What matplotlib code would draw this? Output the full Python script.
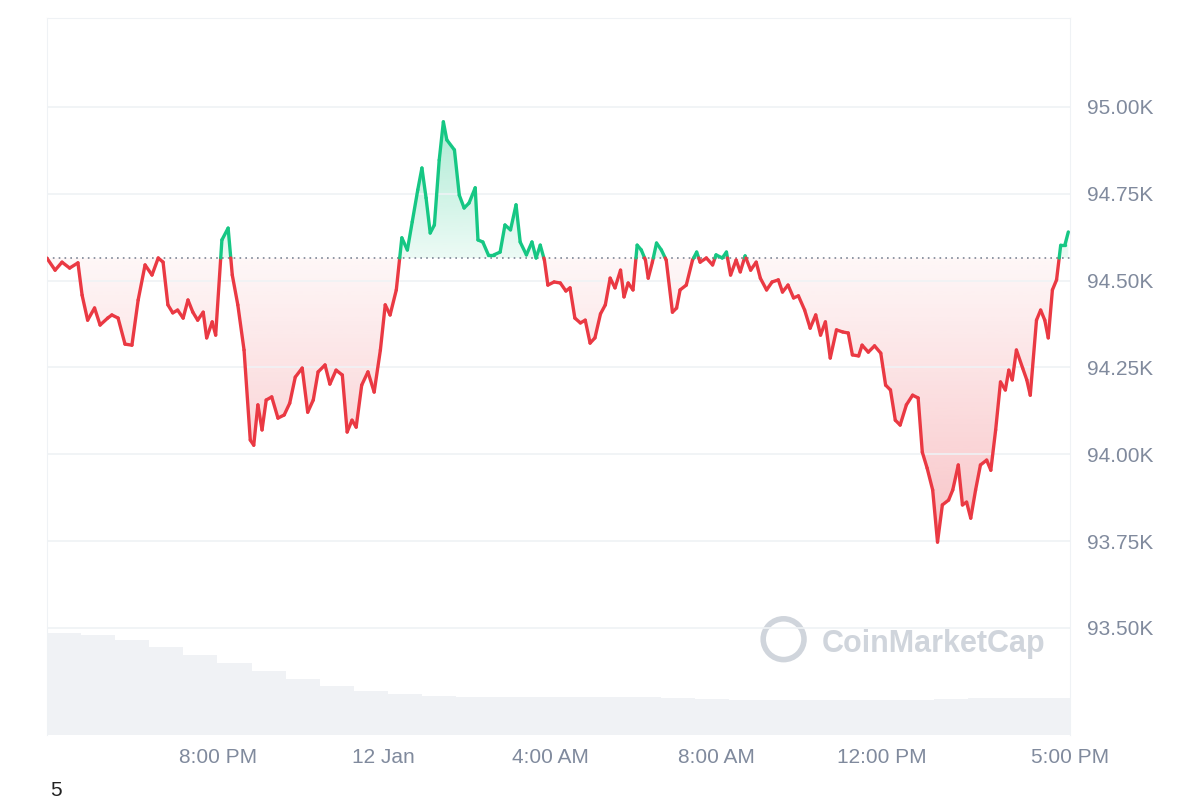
import numpy as np
import matplotlib
matplotlib.use("Agg")
import matplotlib.pyplot as plt
from matplotlib.collections import LineCollection
from matplotlib.patches import PathPatch, Ellipse
from matplotlib.path import Path

plt.rcParams['font.family'] = ['Liberation Sans', 'DejaVu Sans']

# minutes since 15:53 (11 Jan)
minutes = [0,12,22,33,45,51,59,69,77,88,94,103,113,123,132,142,152,161,168,175,182,189,197,204,211,218,226,231,239,244,
253,262,268,276,285,294,299,305,311,317,325,334,343,351,359,369,377,385,392,402,409,418,427,434,441,447,455,464,473,482,
489,496,505,513,521,528,536,542,548,554,560,567,573,578,589,596,603,610,619,623,630,638,646,655,662,670,678,684,693,701,
707,713,719,724,733,742,750,756,763,771,778,785,792,800,807,814,821,829,834,840,847,853,859,865,869,875,881,888,895,904,
910,915,924,933,939,944,953,962,967,976,982,988,996,1002,1009,1017,1025,1031,1040,1048,1057,1063,1071,1079,1086,1095,1103,1111,1118,1125,
1132,1141,1150,1158,1164,1173,1178,1187,1196,1205,1212,1219,1226,1233,1242,1251,1259,1265,1272,1280,1287,1294,1303,1309,1317,1323,1329,1335,1342,1349,
1358,1364,1371,1378,1385,1390,1395,1401,1410,1416,1421,1430,1436,1442,1447,1453,1459,1465,1471,1476]
price = [94565,94530,94553,94536,94551,94458,94386,94421,94372,94392,94401,94392,94317,94314,94444,94545,94516,94565,94553,94430,94407,94415,94392,94444,94409,94386,94409,94335,94381,94343,
94617,94651,94516,94430,94300,94041,94026,94142,94070,94156,94165,94104,94113,94147,94222,94248,94121,94156,94237,94257,94202,94242,94228,94064,94098,94078,94199,94237,94179,94300,
94430,94401,94473,94623,94588,94669,94761,94824,94738,94637,94660,94847,94957,94905,94876,94746,94709,94723,94767,94617,94611,94574,94574,94582,94660,94646,94718,94611,94574,94611,
94565,94602,94559,94487,94496,94493,94470,94479,94392,94378,94386,94320,94335,94404,94430,94507,94479,94530,94453,94493,94473,94602,94588,94559,94507,94553,94608,94588,94559,94409,
94421,94473,94487,94559,94582,94553,94565,94545,94574,94565,94582,94516,94559,94525,94571,94530,94553,94507,94473,94496,94502,94467,94487,94450,94456,94415,94363,94401,94343,94381,
94277,94358,94352,94349,94286,94283,94314,94294,94312,94291,94199,94185,94098,94084,94142,94170,94162,94006,93960,93897,93747,93854,93868,93897,93969,93854,93862,93816,93897,93969,
93983,93954,94070,94208,94185,94242,94214,94300,94248,94214,94170,94386,94415,94386,94335,94473,94502,94602,94602,94640]
baseline = 94565
volume = [102,100,95,88,80,72,64,56,49,44,41,39,38,38,38,38,38,38,37,36,35,35,35,35,35,35,36,37,37,37]
tick_minutes = [247,487,727,967,1207,1479]
tick_labels = ["8:00 PM","12 Jan","4:00 AM","8:00 AM","12:00 PM","5:00 PM"]
ytick_vals = [93500,93750,94000,94250,94500,94750,95000]
ytick_labels = ["93.50K","93.75K","94.00K","94.25K","94.50K","94.75K","95.00K"]

GREEN = "#16c784"; RED = "#ea3943"; GREY = "#808a9d"
x = np.array(minutes, float); y = np.array(price, float)
xmax = 1479

fig = plt.figure(figsize=(12, 8), dpi=100)
ax = fig.add_axes([0.039, 0.081, 0.853, 0.8965])
ax.set_xlim(0, xmax); ax.set_ylim(93191, 95256)

axv = ax.twinx()
axv.set_ylim(0, 717)
w = xmax / len(volume)
axv.bar(np.arange(len(volume)) * w, volume, width=w, align="edge", color="#f0f2f5", edgecolor="none", zorder=0)
axv.set_yticks([]); axv.set_zorder(0)
ax.set_zorder(1); ax.patch.set_visible(False)
for s in axv.spines.values(): s.set_visible(False)

xs, ys = [x[0]], [y[0]]
for i in range(1, len(x)):
    a, b = y[i-1] - baseline, y[i] - baseline
    if a * b < 0:
        t = a / (a - b)
        xs.append(x[i-1] + t * (x[i] - x[i-1])); ys.append(baseline)
    xs.append(x[i]); ys.append(y[i])
xs = np.array(xs); ys = np.array(ys)

def grad_fill(above, color, lo, hi, a_base, a_far):
    yc = np.where(ys >= baseline, ys, baseline) if above else np.where(ys <= baseline, ys, baseline)
    verts = list(zip(xs, yc)) + list(zip(xs[::-1], [baseline]*len(xs)))
    patch = PathPatch(Path(verts), facecolor="none", edgecolor="none")
    ax.add_patch(patch)
    rgb = matplotlib.colors.to_rgb(color)
    n = 256
    img = np.zeros((n, 1, 4)); img[:, 0, :3] = rgb
    al = np.linspace(a_base, a_far, n)
    img[:, 0, 3] = al if above else al[::-1]
    im = ax.imshow(img, extent=[0, xmax, lo, hi], origin="lower", aspect="auto", zorder=1, interpolation="bilinear")
    im.set_clip_path(patch)

grad_fill(True, GREEN, baseline, ys.max(), 0.08, 0.35)
grad_fill(False, RED, ys.min(), baseline, 0.04, 0.3)
ax.set_xlim(0, xmax); ax.set_ylim(93191, 95256)

pts = np.column_stack([xs, ys]).reshape(-1, 1, 2)
segs = np.concatenate([pts[:-1], pts[1:]], axis=1)
mid = (ys[:-1] + ys[1:]) / 2
cols = [GREEN if m > baseline else RED for m in mid]
ax.add_collection(LineCollection(segs, colors=cols, linewidths=2.4, zorder=3, capstyle="round", joinstyle="round"))
ax.axhline(baseline, color="#7d8595", lw=1.2, ls=(0, (1, 2.5)), zorder=2)

ax.set_yticks(ytick_vals); ax.set_yticklabels(ytick_labels)
ax.yaxis.tick_right()
ax.set_xticks(tick_minutes); ax.set_xticklabels(tick_labels)
ax.tick_params(axis="both", length=0, labelsize=15, labelcolor=GREY, pad=9)
ax.tick_params(axis="y", pad=12)
ax.grid(axis="y", color="#eff2f5", lw=1.2)
for k, s in ax.spines.items():
    s.set_color("#eff2f5")
ax.spines["bottom"].set_visible(False)

fig.text(0.685, 0.185, "CoinMarketCap", fontsize=22, color="#d0d5dc", fontweight="bold")
fig.add_artist(Ellipse((0.653, 0.201), 0.034, 0.051, transform=fig.transFigure, fill=False, ec="#d0d5dc", lw=4))
fig.text(0.042, 0.0, "5", fontsize=15, color="#222222", va="bottom")
fig.savefig("out.png", dpi=100, facecolor="white")
